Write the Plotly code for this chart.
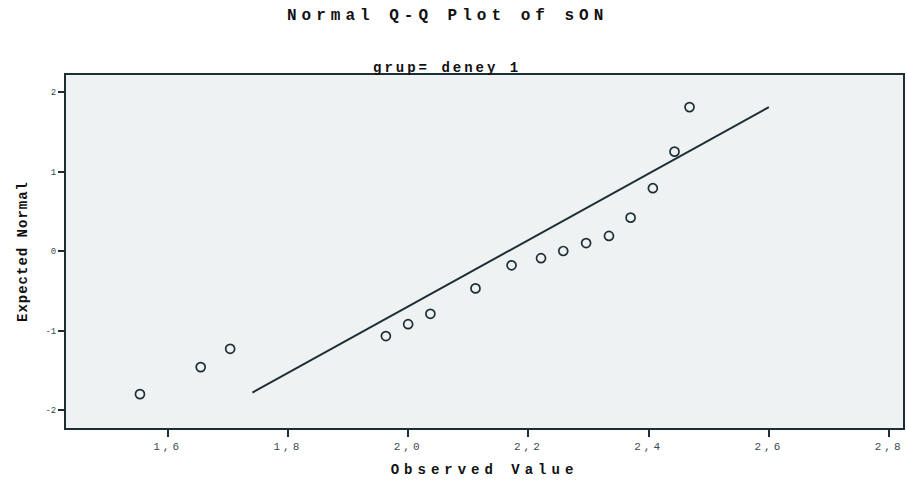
import plotly.graph_objects as go

observed = [1.554, 1.655, 1.704, 1.963, 2.000, 2.037, 2.112, 2.172,
            2.221, 2.258, 2.296, 2.334, 2.370, 2.407, 2.443, 2.468]
expected = [-1.80, -1.46, -1.23, -1.07, -0.92, -0.79, -0.47, -0.18,
            -0.09, 0.00, 0.10, 0.19, 0.42, 0.79, 1.25, 1.81]

# Reference normal line endpoints
line_x = [1.741, 2.600]
line_y = [-1.78, 1.81]

x_ticks = [1.6, 1.8, 2.0, 2.2, 2.4, 2.6, 2.8]
x_tick_labels = ["1,6", "1,8", "2,0", "2,2", "2,4", "2,6", "2,8"]
y_ticks = [-2, -1, 0, 1, 2]
y_tick_labels = ["-2", "-1", "0", "1", "2"]

title_text = "Normal Q-Q Plot of sON"
subtitle_text = "grup= deney 1"
x_title = "Observed Value"
y_title = "Expected Normal"


def spaced(t, px):
    return f'<span style="letter-spacing:{px}px">{t}</span>'


INK = "#1d2f35"
MONO = "Liberation Mono, DejaVu Sans Mono, monospace"

W, H = 907, 484
ML, MR, MT, MB = 66, 2, 75, 56
pw = W - ML - MR
ph = H - MT - MB


def px_to_paper(x, y):
    return (x - ML) / pw, (H - y - MB) / ph


fig = go.Figure()
fig.add_trace(go.Scatter(
    x=line_x, y=line_y, mode="lines",
    line=dict(color=INK, width=2), hoverinfo="skip", showlegend=False))
fig.add_trace(go.Scatter(
    x=observed, y=expected, mode="markers",
    marker=dict(symbol="circle-open", size=9, color=INK, line=dict(width=1.7, color=INK)),
    showlegend=False))

tx, ty = px_to_paper(448, 16)
sx, sy = px_to_paper(448, 68)

fig.update_layout(
    width=W, height=H,
    margin=dict(l=ML, r=MR, t=MT, b=MB),
    paper_bgcolor="white",
    plot_bgcolor="#eff2f3",
    separators=",.",
    font=dict(family=MONO, color=INK),
    annotations=[
        dict(text=spaced(title_text, 5), x=tx, y=ty, xref="paper", yref="paper",
             showarrow=False, font=dict(size=16, family=MONO, color="#111", weight="bold"),
             xanchor="center", yanchor="middle"),
        dict(text=spaced(subtitle_text, 3), x=sx, y=sy, xref="paper", yref="paper",
             showarrow=False, font=dict(size=14, family=MONO, color="#111", weight="bold"),
             xanchor="center", yanchor="middle"),
    ],
)

fig.update_xaxes(
    range=[1.431, 2.823],
    tickvals=x_ticks, ticktext=[spaced(t, 3) for t in x_tick_labels],
    ticks="outside", ticklen=7, tickwidth=2, tickcolor=INK,
    tickfont=dict(size=11, color="#3a4a50", family=MONO),
    showgrid=False, zeroline=False,
    showline=True, linecolor=INK, linewidth=2, mirror=True,
    title=dict(text=spaced(x_title, 5), font=dict(size=14, family=MONO, color="#111", weight="bold"),
               standoff=12),
)
fig.update_yaxes(
    range=[-2.226, 2.214],
    tickvals=y_ticks, ticktext=y_tick_labels,
    ticks="outside", ticklen=6, tickwidth=2, tickcolor=INK,
    tickfont=dict(size=9, color="#3a4a50", family=MONO),
    showgrid=False, zeroline=False,
    showline=True, linecolor=INK, linewidth=2, mirror=True,
    title=dict(text=spaced(y_title, 1), font=dict(size=14, family=MONO, color="#111", weight="bold"),
               standoff=14),
)

fig.write_html("out.html")
